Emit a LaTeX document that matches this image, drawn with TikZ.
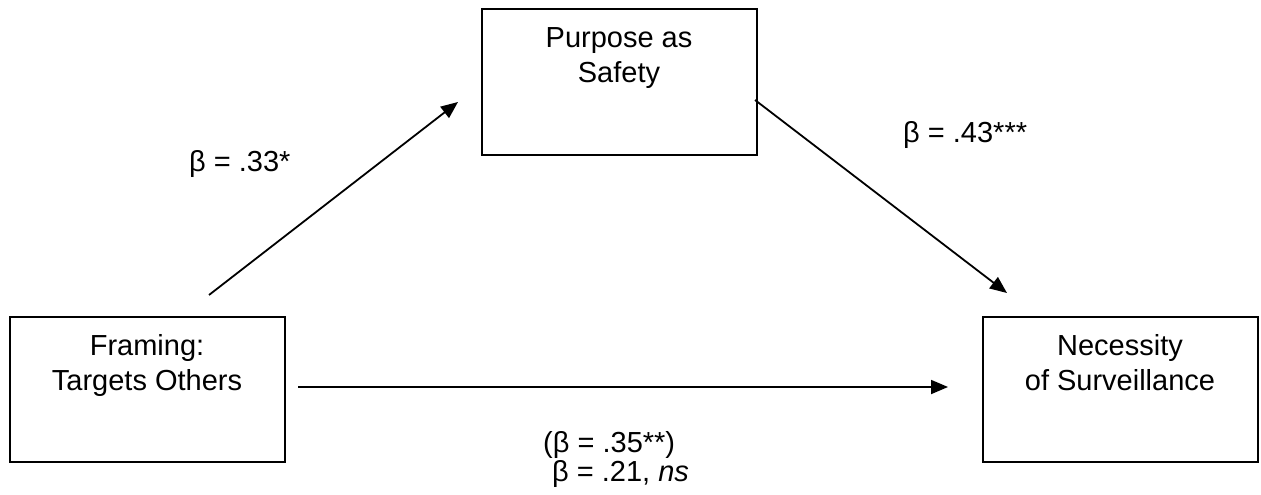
\documentclass[tikz,border=0pt]{standalone}
\usepackage{fontspec}
\setmainfont{Liberation Sans}
\usetikzlibrary{arrows.meta}
\tikzset{
  box/.style={draw=black, line width=2pt, minimum width=275pt, minimum height=145pt, inner sep=0pt},
  boxtext/.style={align=center, anchor=base, font=\fontsize{29}{35}\selectfont, inner sep=0pt},
  lab/.style={anchor=base west, font=\fontsize{29}{35}\selectfont, inner sep=0pt},
  conn/.style={line width=1.8pt, -{Triangle[length=17pt,width=14pt]}}
}
\begin{document}
\begin{tikzpicture}[x=1pt,y=-1pt]
\useasboundingbox (0,0) rectangle (1261,495);
\node[box] (fr) at (147,389.5) {};
\node[box] (ps) at (619,82) {};
\node[box] (ne) at (1120,389.5) {};
\node[boxtext] (frt) at (147,390) {Framing:\\Targets Others};
\node[boxtext] (pst) at (619,82) {Purpose as\\Safety};
\node[boxtext] (net) at (1120,390) {Necessity\\of Surveillance};
\coordinate (a1s) at (209,295);
\coordinate (a1e) at (458,102);
\coordinate (a2s) at (755,100);
\coordinate (a2e) at (1007,293);
\coordinate (a3s) at (298,387);
\coordinate (a3e) at (948,387);
\draw[conn] (a1s) -- (a1e);
\draw[conn] (a2s) -- (a2e);
\draw[conn] (a3s) -- (a3e);
\node[lab] (l1) at (189,171) {β = .33*};
\node[lab] (l2) at (903,142) {β = .43***};
\node[lab] (l3) at (543,452) {(β = .35**)};
\node[lab] (l4) at (552,481) {β = .21, \textit{ns}};
\end{tikzpicture}
\end{document}
